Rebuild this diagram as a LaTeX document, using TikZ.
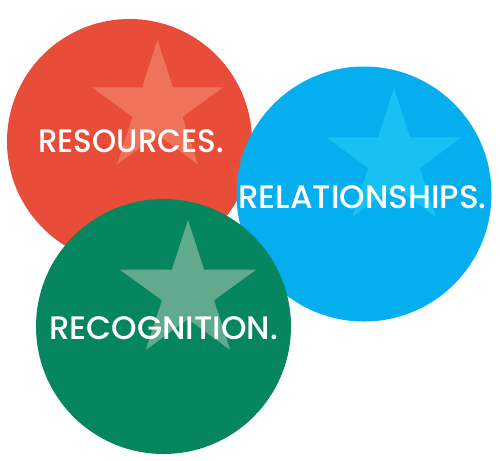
\documentclass[tikz,border=0pt]{standalone}
\usepackage{fontspec}
\setmainfont{Poppins}[UprightFont=* Medium]
\usetikzlibrary{shapes.geometric}

\definecolor{resred}{HTML}{E84D3A}
\definecolor{resstar}{HTML}{EE735A}
\definecolor{relblue}{HTML}{05AEEE}
\definecolor{relstar}{HTML}{18C1F4}
\definecolor{recgreen}{HTML}{06865E}
\definecolor{recstar}{HTML}{62AA8E}

\begin{document}
\begin{tikzpicture}[
  x=1pt, y=-1pt,
  disc/.style={circle, inner sep=0pt, draw=none},
  badge/.style={star, star points=5, star point ratio=2.618, inner sep=0pt, draw=none},
  word/.style={text=white, anchor=base, inner sep=0pt, font=\fontsize{32.5}{32.5}\selectfont},
]
\useasboundingbox (0,0) rectangle (500,460);

% ------------------------------------------------------------------
% red disc: resources
% ------------------------------------------------------------------
\node[disc, fill=resred, minimum size=245pt] (resdisc) at (129.5,141.5) {};
\node[badge, fill=resstar, minimum size=137.4pt] (resbadge) at (157.5,108.7) {};
\node[word, xscale=0.95] (reslabel) at (131,152.7) {RESOURCES.};

% ------------------------------------------------------------------
% blue disc: relationships
% ------------------------------------------------------------------
\node[disc, fill=relblue, minimum size=255pt] (reldisc) at (364,194) {};
\node[badge, fill=relstar, minimum size=142.4pt] (relbadge) at (394,159.5) {};
\node[word] (rellabel) at (362.5,208) {RELATIONSHIPS.};

% ------------------------------------------------------------------
% green disc: recognition
% ------------------------------------------------------------------
\node[disc, fill=recgreen, minimum size=255pt] (recdisc) at (163.5,326.5) {};
\node[badge, fill=recstar, minimum size=143.4pt] (recbadge) at (188,291.8) {};
\node[word] (reclabel) at (163.5,339.3) {RECOGNITION.};
\end{tikzpicture}
\end{document}
